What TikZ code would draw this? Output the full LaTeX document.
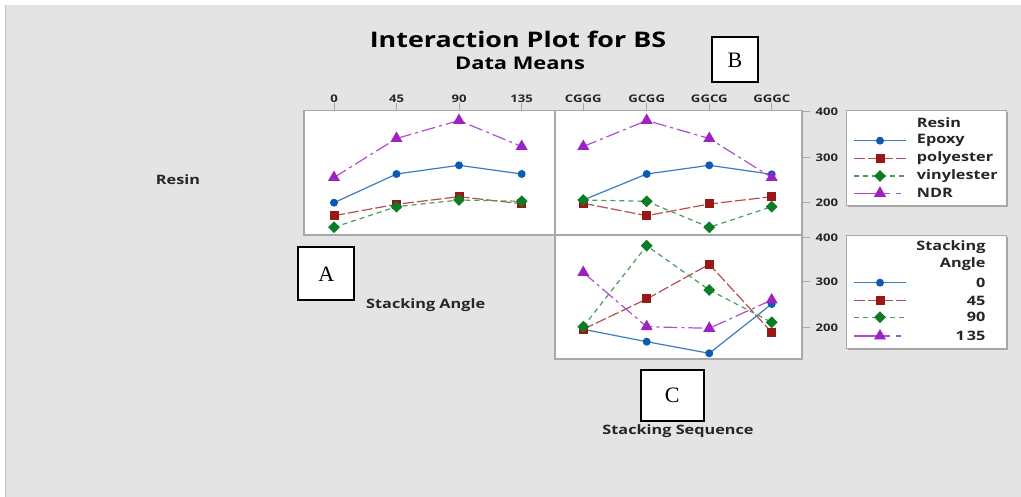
\documentclass[tikz,border=0pt]{standalone}
\usepackage{fontspec}
\setmainfont{Open Sans}[FakeStretch=1.25]
\newfontfamily\boxfont{Liberation Serif}
\usetikzlibrary{shapes.geometric}
\definecolor{bg}{HTML}{E4E4E4}
\definecolor{cblue}{HTML}{0A5CB0}
\definecolor{cred}{HTML}{9B1616}
\definecolor{cgreen}{HTML}{0C7D24}
\definecolor{cpurp}{HTML}{9C22C4}
\definecolor{pborder}{HTML}{A8A8A8}
\newcommand\mkseries[9]{%
  \coordinate (#1-1) at (#2,#6); \coordinate (#1-2) at (#3,#7);
  \coordinate (#1-3) at (#4,#8); \coordinate (#1-4) at (#5,#9);}
\newcommand\showseries[3]{% name, line style, marker style
  \draw[#2] (#1-1) -- (#1-2) -- (#1-3) -- (#1-4);
  \foreach \k in {1,...,4} \node[#3] (#1-m\k) at (#1-\k) {};}
\tikzset{
  panel/.style={draw=pborder, line width=1.3pt, fill=white},
  tick/.style={draw=pborder, line width=1pt},
  ticklab/.style={font=\fontsize{10.5}{12}\selectfont\bfseries, text=black!85, inner sep=0pt},
  axlab/.style={font=\fontsize{13}{15}\selectfont\bfseries, text=black!85, inner sep=0pt},
  lettbox/.style={draw=black, line width=2pt, fill=white, inner sep=0pt, font=\boxfont\fontsize{22}{24}\selectfont},
  legbox/.style={draw=pborder, line width=1pt, fill=white},
  legtxt/.style={font=\fontsize{13}{15}\selectfont\bfseries, text=black!85, inner sep=0pt},
  lblue/.style={draw=cblue!80!white, line width=1.2pt},
  lred/.style={draw=cred!75!white, line width=1.2pt, dash pattern=on 11pt off 3pt},
  lgreen/.style={draw=cgreen!75!white, line width=1.2pt, dash pattern=on 5pt off 4pt},
  lpurp/.style={draw=cpurp!80!white, line width=1.2pt, dash pattern=on 14pt off 4pt on 3pt off 4pt},
  lpurpleg/.style={draw=cpurp!80!white, line width=1.2pt, dash pattern=on 36pt off 6pt on 5pt off 10pt},
  mblue/.style={circle, fill=cblue, inner sep=0pt, minimum size=8pt},
  mred/.style={rectangle, fill=cred, inner sep=0pt, minimum size=9pt},
  mgreen/.style={diamond, fill=cgreen, inner sep=0pt, minimum size=12pt},
  mpurp/.style={regular polygon, regular polygon sides=3, fill=cpurp, inner sep=0pt, minimum size=14pt},
}
\begin{document}
\begin{tikzpicture}[x=1pt,y=-1pt]
\useasboundingbox (0,0) rectangle (1021,497);
\fill[white] (0,0) rectangle (1021,497);
\fill[bg] (5,5) rectangle (1021,497);
\draw[black!25, line width=1pt] (5.5,5) -- (5.5,497);

% titles
\node[font=\fontsize{21.5}{24}\selectfont\bfseries, inner sep=0pt] (title) at (518,39.5) {Interaction Plot for BS};
\node[font=\fontsize{17.5}{19}\selectfont\bfseries, inner sep=0pt] (sub) at (520,63.5) {Data Means};

% panels
\draw[panel] (304,110.5) rectangle (555,235);
\draw[panel] (555,110.5) rectangle (802,235);
\draw[panel] (555,235) rectangle (802,359);

% top ticks & labels
\foreach \x/\l [count=\i] in {334/0,396.5/45,459/90,521.7/135,583.3/CGGG,646.7/GCGG,709.3/GGCG,771.7/GGGC}{
  \draw[tick] (\x,103.5) -- (\x,110.5);
  \node[ticklab] (tl\i) at (\x,98.5) {\l};
}
% right ticks & labels
\foreach \y/\l [count=\i] in {111.7/400,157.3/300,202.7/200,237.5/400,282/300,327.7/200}{
  \draw[tick] (802,\y) -- (809.5,\y);
  \node[ticklab, anchor=west] (rl\i) at (815.5,\y) {\l};
}

% axis labels
\node[axlab] (resin) at (178,180) {Resin};
\node[axlab, anchor=west] (sang) at (366,305) {Stacking Angle};
\node[axlab] (sseq) at (678,431) {Stacking Sequence};

% letter boxes
\node[lettbox, minimum width=55.5pt, minimum height=53pt] (A) at (326.2,274) {A};
\node[lettbox, minimum width=46.5pt, minimum height=45pt] (B) at (735,60) {B};
\node[lettbox, minimum width=63pt, minimum height=50.5pt] (C) at (672.3,395.5) {C};

% panel 1: Resin vs stacking angle
\mkseries{pn}{334}{396.5}{459}{521.7}{177.5}{138.5}{120.5}{146.5}
\mkseries{pe}{334}{396.5}{459}{521.7}{202.7}{174}{165.3}{174}
\mkseries{pp}{334}{396.5}{459}{521.7}{215.7}{204.3}{196.7}{203.7}
\mkseries{pv}{334}{396.5}{459}{521.7}{227.3}{206.7}{200}{201.3}
% panel 2: Resin vs stacking sequence
\mkseries{qn}{583.3}{646.7}{709.3}{771.7}{146.5}{120.5}{138.5}{177.5}
\mkseries{qe}{583.3}{646.7}{709.3}{771.7}{200}{174}{165.3}{174.3}
\mkseries{qp}{583.3}{646.7}{709.3}{771.7}{203.3}{215.7}{204}{196.7}
\mkseries{qv}{583.3}{646.7}{709.3}{771.7}{200}{201.3}{227.3}{206.7}
% panel 3: angle vs sequence
\mkseries{ra}{583.3}{646.7}{709.3}{771.7}{329.3}{341.7}{353.3}{304}
\mkseries{rb}{583.3}{646.7}{709.3}{771.7}{329.3}{299}{264.3}{332.3}
\mkseries{rc}{583.3}{646.7}{709.3}{771.7}{326.7}{245.7}{290}{322.3}
\mkseries{rd}{583.3}{646.7}{709.3}{771.7}{272.5}{326.7}{328.3}{300}

\showseries{pe}{lblue}{mblue}
\showseries{pp}{lred}{mred}
\showseries{pv}{lgreen}{mgreen}
\showseries{pn}{lpurp}{mpurp}
\showseries{qe}{lblue}{mblue}
\showseries{qp}{lred}{mred}
\showseries{qv}{lgreen}{mgreen}
\showseries{qn}{lpurp}{mpurp}
\showseries{ra}{lblue}{mblue}
\showseries{rb}{lred}{mred}
\showseries{rc}{lgreen}{mgreen}
\showseries{rd}{lpurp}{mpurp}

% legends
\fill[black!35] (848,112) rectangle (1008,207.5);
\draw[legbox] (846.5,110.5) rectangle (1006.5,206);
\node[legtxt, anchor=west] (l1t) at (916.7,122.7) {Resin};
\foreach \y/\l/\ls/\ms [count=\i] in {140.7/Epoxy/lblue/mblue,158.3/polyester/lred/mred,176/vinylester/lgreen/mgreen,193.3/NDR/lpurpleg/mpurp}{
  \coordinate (la\i) at (854,\y); \coordinate (lb\i) at (906,\y);
  \draw[\ls] (la\i) -- (lb\i);
  \node[\ms] (lm\i) at (880,\y) {};
  \node[legtxt, anchor=west] (lt\i) at (916.7,\y) {\l};
}
\fill[black!35] (848,237.5) rectangle (1008,350);
\draw[legbox] (846.5,236) rectangle (1006.5,348.5);
\node[legtxt, anchor=east] (l2t) at (985.7,247.3) {Stacking};
\node[legtxt, anchor=east] (l2u) at (985.7,264.3) {Angle};
\foreach \y/\l/\ls/\ms [count=\i] in {282.7/0/lblue/mblue,300.7/45/lred/mred,317.3/90/lgreen/mgreen,336/1\,35/lpurpleg/mpurp}{
  \coordinate (ka\i) at (854,\y); \coordinate (kb\i) at (906,\y);
  \draw[\ls] (ka\i) -- (kb\i);
  \node[\ms] (km\i) at (880,\y) {};
  \node[legtxt, anchor=east] (kt\i) at (985.7,\y) {\l};
}
\end{tikzpicture}
\end{document}
